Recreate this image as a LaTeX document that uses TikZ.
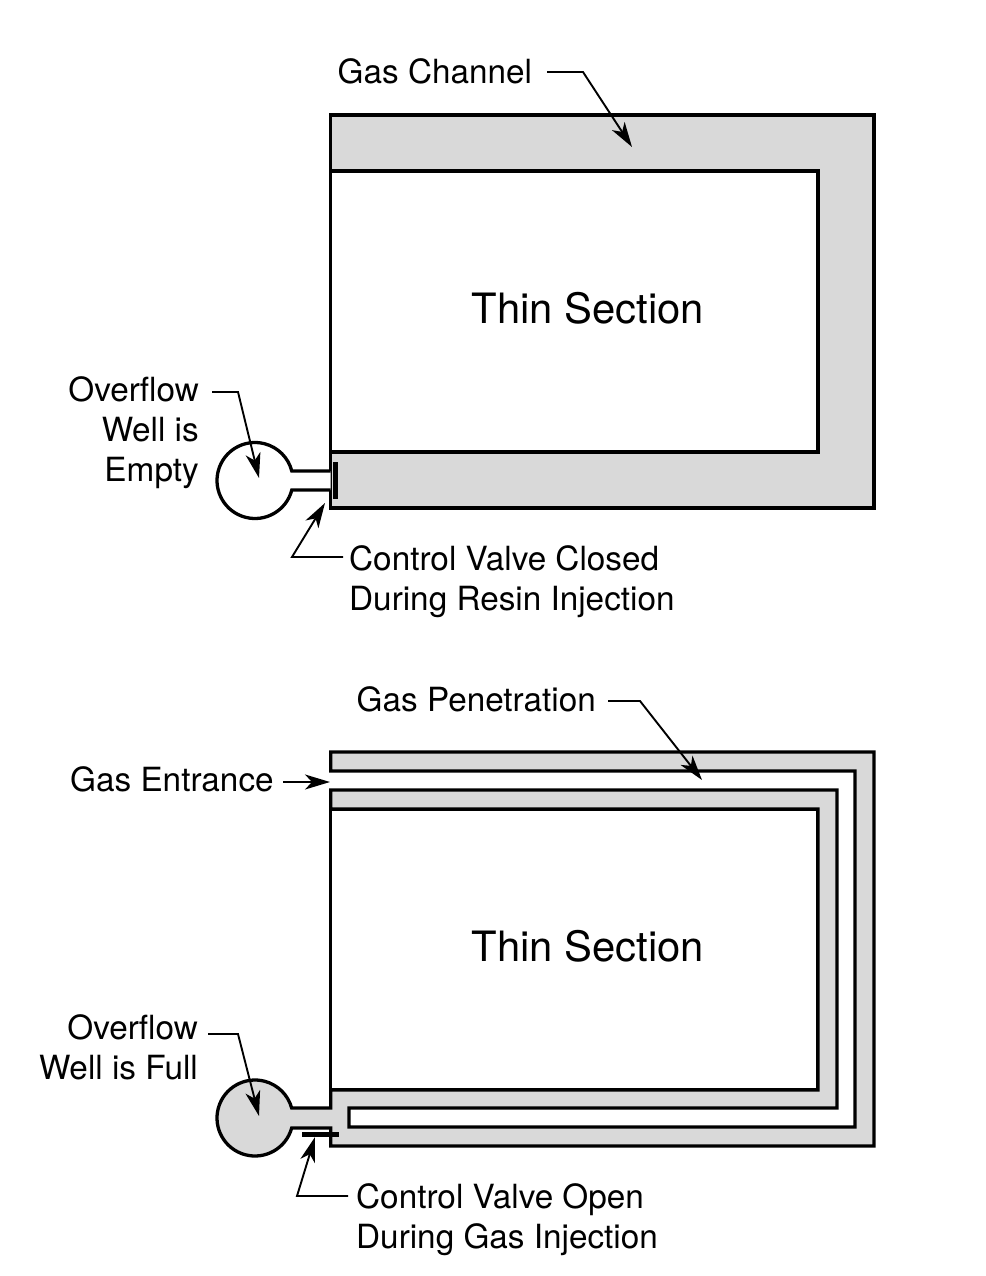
\documentclass[tikz,border=0pt]{standalone}
\usepackage{fontspec}
\setmainfont{TeX Gyre Heros}
\usetikzlibrary{arrows.meta}
\definecolor{fillgray}{HTML}{D9D9D9}
\tikzset{
  wall/.style={draw=black,line width=3.3pt,miter limit=10},
  filled/.style={wall,fill=fillgray},
  valvebar/.style={draw=black,line width=5pt},
  leader/.style={draw=black,line width=1.9pt,-{Stealth[length=25pt,width=15pt,inset=7pt]}},
  lab/.style={inner sep=0pt,font=\fontsize{33.3}{40}\selectfont},
  big/.style={inner sep=0pt,font=\fontsize{41.8}{50}\selectfont},
}
\begin{document}
\begin{tikzpicture}[x=1pt,y=-1pt]
\useasboundingbox (0,0) rectangle (985,1276);
% ---------- top diagram
\draw[filled] (330.7,115) -- (874,115) -- (874,508) -- (330.7,508) -- (330.7,452) -- (818,452) -- (818,171) -- (330.7,171) -- cycle;
\draw[wall] (330.7,171) -- (330.7,452);
\draw[wall,fill=white] (330.7,490) -- (291.8,490) arc[start angle=14.48,end angle=345.52,radius=38] -- (330.7,471);
\draw[valvebar] (335,462) -- (335,499);
\node[big,anchor=base] (thin1) at (588,323) {Thin Section};
\node[lab,anchor=base west] (gc) at (337.5,84) {Gas Channel};
\node[lab,anchor=north east,align=right] (ow1) at (199,376) {Overflow\\Well is\\Empty};
\node[lab,anchor=north west,align=left] (cv1) at (349,545) {Control Valve Closed\\During Resin Injection};
\coordinate (gcS) at (547,72);
\coordinate (gcE) at (583,72);
\coordinate (gcT) at (632,147);
\coordinate (ow1S) at (212,392);
\coordinate (ow1E) at (238,392);
\coordinate (ow1T) at (259,478);
\coordinate (cv1S) at (343,557);
\coordinate (cv1E) at (292,557);
\coordinate (cv1T) at (325,503);
\draw[leader] (gcS) -- (gcE) -- (gcT);
\draw[leader] (ow1S) -- (ow1E) -- (ow1T);
\draw[leader] (cv1S) -- (cv1E) -- (cv1T);
% ---------- bottom diagram
\draw[wall,fill=white] (330.7,809) rectangle (818,1090);
\draw[filled] (330.7,771) -- (330.7,752) -- (874,752) -- (874,1146) -- (330.7,1146) -- (330.7,1128) -- (291.66,1128)
  arc[start angle=15.26,end angle=344.74,radius=38] -- (330.7,1108) -- (330.7,1090) -- (818,1090) -- (818,809) -- (330.7,809) -- (330.7,790)
  -- (837,790) -- (837,1108) -- (349,1108) -- (349,1127) -- (855,1127) -- (855,771) -- cycle;
\draw[valvebar] (302,1134.5) -- (339,1134.5);
\node[big,anchor=base] (thin2) at (588,961) {Thin Section};
\node[lab,anchor=base west] (gp) at (356.5,711) {Gas Penetration};
\node[lab,anchor=base west] (ge) at (70,791) {Gas Entrance};
\node[lab,anchor=north east,align=right] (ow2) at (198,1014) {Overflow\\Well is Full};
\node[lab,anchor=north west,align=left] (cv2) at (356,1183) {Control Valve Open\\During Gas Injection};
\coordinate (gpS) at (608,701);
\coordinate (gpE) at (640,701);
\coordinate (gpT) at (702,780);
\coordinate (geS) at (283,782);
\coordinate (geT) at (330,782);
\coordinate (ow2S) at (208,1034);
\coordinate (ow2E) at (238,1034);
\coordinate (ow2T) at (259,1116);
\coordinate (cv2S) at (348,1196);
\coordinate (cv2E) at (297,1196);
\coordinate (cv2T) at (315,1137);
\draw[leader] (gpS) -- (gpE) -- (gpT);
\draw[leader] (geS) -- (geT);
\draw[leader] (ow2S) -- (ow2E) -- (ow2T);
\draw[leader] (cv2S) -- (cv2E) -- (cv2T);
\end{tikzpicture}
\end{document}
